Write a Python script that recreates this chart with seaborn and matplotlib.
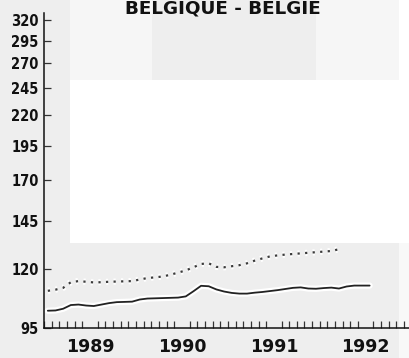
import numpy as np
import pandas as pd
import matplotlib
matplotlib.use("Agg")
import matplotlib.pyplot as plt
import matplotlib.patheffects as pe
from matplotlib.patches import Rectangle
from matplotlib.ticker import FixedLocator, NullFormatter
import seaborn as sns

# Monthly index values, starting January 1989
solid_values = [
    101.7, 101.8, 102.5, 104.0, 104.2, 103.8, 103.6, 104.2, 104.8, 105.2, 105.3, 105.4,
    106.3, 106.7, 106.8, 106.9, 107.0, 107.1, 107.6, 109.8, 112.2, 112.0, 110.6, 109.7,
    109.1, 108.8, 108.8, 109.2, 109.5, 109.9, 110.3, 110.8, 111.3, 111.5, 111.0, 110.9,
    111.2, 111.4, 111.0, 111.9, 112.3, 112.3, 112.3,
]
dotted_values = [
    110.0, 110.5, 111.3, 113.8, 114.3, 114.0, 113.7, 113.8, 114.0, 114.1, 114.2, 114.3,
    115.0, 115.7, 116.0, 116.4, 117.2, 118.2, 119.2, 120.7, 122.3, 122.6, 120.9, 120.7,
    121.2, 121.7, 122.6, 123.9, 125.0, 126.0, 126.5, 126.9, 127.2, 127.5, 127.8, 128.1,
    128.4, 128.7, 129.6,
]
y_ticks = [95, 120, 145, 170, 195, 220, 245, 270, 295, 320]
year_labels = ["1989", "1990", "1991", "1992"]
title = "BELGIQUE - BELGIE"

start_year = 1989
solid_t = start_year + (np.arange(len(solid_values)) + 0.5) / 12
dotted_t = start_year + (np.arange(len(dotted_values)) + 0.5) / 12
df_solid = pd.DataFrame({"t": solid_t, "v": solid_values})
df_dotted = pd.DataFrame({"t": dotted_t, "v": dotted_values})

sns.set_style("white")
plt.rcParams["font.family"] = ["DejaVu Sans"]

W, H = 409, 358
fig = plt.figure(figsize=(W / 100, H / 100), dpi=100)
fig.patch.set_facecolor("white")


def band(x0, y0, x1, y1, color):
    fig.add_artist(Rectangle((x0 / W, 1 - y1 / H), (x1 - x0) / W, (y1 - y0) / H,
                             transform=fig.transFigure, facecolor=color,
                             edgecolor="none", zorder=-10))


# paper tones behind the plot
band(0, 0, 70, H, "#eeeeee")
band(70, 0, 399, 80, "#f6f6f6")
band(152, 0, 316, 80, "#eeeeee")
band(70, 243, 399, H, "#eeeeee")
band(399, 243, W, H, "#f8f8f8")

ax_left, ax_right = 44, 409
ax_top, ax_bottom = 13, 328
ax = fig.add_axes([ax_left / W, 1 - ax_bottom / H, (ax_right - ax_left) / W,
                   (ax_bottom - ax_top) / H])
ax.set_facecolor("none")

halo = [pe.withStroke(linewidth=4.5, foreground="white")]
sns.lineplot(data=df_dotted, x="t", y="v", ax=ax, color="#3a3a3a",
             linewidth=1.6, linestyle=(0, (1, 2.4)), path_effects=halo)
sns.lineplot(data=df_solid, x="t", y="v", ax=ax, color="#222222",
             linewidth=1.3, path_effects=halo)

ax.set_yscale("log")
ax.set_ylim(95, 329)
ax.set_xlim(1989.0, 1992.97)

ax.yaxis.set_major_locator(FixedLocator(y_ticks))
ax.yaxis.set_minor_formatter(NullFormatter())
ax.yaxis.set_minor_locator(FixedLocator([]))
ax.set_yticklabels([str(v) for v in y_ticks], fontsize=10.5, fontweight="bold",
                   fontstretch="condensed", color="#111111")
ax.tick_params(axis="y", which="major", direction="in", length=5, width=0.9,
               pad=4, left=True, color="#333333")

# year labels in mid-year, monthly ticks along the bottom
ax.xaxis.set_major_locator(FixedLocator([start_year + i + 0.5 for i in range(4)]))
ax.set_xticklabels(year_labels, fontsize=12.5, fontweight="bold", color="#111111")
ax.tick_params(axis="x", which="major", length=0, pad=7)
months = [start_year + m / 12 for m in range(48)]
ax.xaxis.set_minor_locator(FixedLocator(months))
ax.tick_params(axis="x", which="minor", direction="in", length=5, width=0.9,
               bottom=True, color="#333333")

for s in ["top", "right"]:
    ax.spines[s].set_visible(False)
for s in ["left", "bottom"]:
    ax.spines[s].set_color("#111111")
    ax.spines[s].set_linewidth(1.1)
ax.set_xlabel("")
ax.set_ylabel("")

fig.text(223 / W, 1 - 13.5 / H, title, ha="center", va="baseline", fontsize=13.2,
         fontweight="bold", color="#111111")

fig.savefig("out.png", dpi=100)
